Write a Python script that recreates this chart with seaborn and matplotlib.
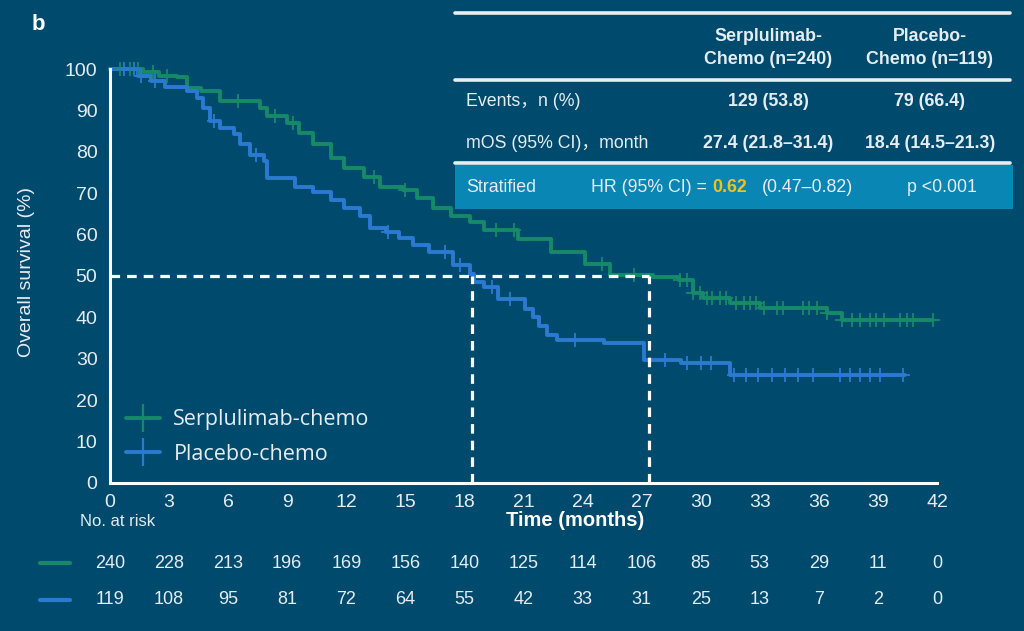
import numpy as np
import pandas as pd
import matplotlib
matplotlib.use("Agg")
import matplotlib.pyplot as plt
import matplotlib.transforms as mtransforms
from matplotlib.lines import Line2D
from matplotlib.patches import Rectangle
import seaborn as sns

# ---------------- data ----------------
serp_t = [0, 1.7, 2.5, 3.4, 3.9, 4.6, 5.6, 7.6, 8.0, 9.0, 9.6, 10.3, 11.2, 11.9, 12.9,
          13.7, 14.9, 15.6, 16.4, 17.3, 18.3, 19.0, 20.7, 22.4, 24.1, 25.4, 27.6, 28.9,
          29.6, 30.1, 31.5, 33.0, 36.4, 37.2, 41.8]
serp_s = [100, 99.2, 98.4, 98.0, 95.5, 94.7, 92.3, 90.7, 88.7, 87.0, 84.6, 81.8, 78.5, 76.0, 74.0,
          71.6, 70.8, 68.8, 66.4, 64.4, 63.1, 61.2, 59.0, 55.8, 53.0, 50.3, 49.8, 49.0,
          45.8, 44.6, 43.4, 42.2, 41.0, 39.4, 39.4]
serp_censor = [0.5, 1.0, 1.4, 2.2, 2.9, 6.5, 8.4, 9.3, 13.4, 15.0, 19.6, 20.5, 25.0, 26.6,
               28.95, 29.3, 29.6, 29.96, 30.3, 30.6, 31.0, 31.3, 31.8, 32.2, 32.5, 32.8, 33.2,
               33.9, 34.2, 35.2, 35.5, 35.9, 36.4, 37.2, 37.7, 38.1, 38.6, 38.9, 39.3, 40.1,
               40.5, 40.8, 41.8]

plac_t = [0, 1.4, 2.1, 2.8, 3.9, 4.4, 4.7, 5.1, 5.6, 6.3, 6.6, 7.1, 7.8, 8.0, 9.4, 10.3,
          11.2, 11.9, 12.7, 13.2, 14.0, 14.7, 15.4, 16.2, 17.4, 18.3, 18.5, 19.0, 19.7, 21.1,
          21.5, 21.8, 22.2, 22.7, 25.1, 27.1, 29.0, 31.5, 40.4]
plac_s = [100, 98.4, 97.2, 95.7, 94.7, 93.1, 90.7, 87.4, 85.8, 84.2, 81.8, 79.3, 77.7, 73.7, 71.6, 70.4,
          68.4, 66.4, 64.4, 61.5, 60.7, 59.1, 57.5, 55.9, 52.6, 50.5, 48.5, 47.3, 44.5, 42.1,
          40.0, 38.0, 35.7, 34.5, 33.7, 29.8, 29.0, 26.1, 26.1]
plac_censor = [0.7, 1.2, 1.6, 2.3, 5.3, 7.4, 14.1, 17.0, 17.8, 19.4, 20.3, 23.6, 28.2, 29.3,
               30.0, 30.5, 31.7, 32.3, 32.9, 33.6, 34.3, 34.95, 35.7, 37.1, 37.6, 38.1, 38.6,
               39.1, 40.3]

median_serp = 27.4
median_plac = 18.4

x_ticks = list(range(0, 43, 3))
y_ticks = list(range(0, 101, 10))
risk_serp = [240, 228, 213, 196, 169, 156, 140, 125, 114, 106, 85, 53, 29, 11, 0]
risk_plac = [119, 108, 95, 81, 72, 64, 55, 42, 33, 31, 25, 13, 7, 2, 0]

arm_labels = ["Serplulimab-chemo", "Placebo-chemo"]
col_headers = ["Serplulimab-\nChemo (n=240)", "Placebo-\nChemo (n=119)"]
row_labels = ["Events\uff0cn (%)", "mOS (95% CI)\uff0cmonth"]
serp_vals = ["129 (53.8)", "27.4 (21.8\u201331.4)"]
plac_vals = ["79 (66.4)", "18.4 (14.5\u201321.3)"]

# ---------------- style ----------------
BG = "#004a6e"
GREEN = "#168a68"
BLUE = "#2a7ad2"
TXT = "#e6edf2"
BOX = "#0a86b4"
YELLOW = "#f2c21b"

sns.set_theme(style="white")
plt.rcParams["font.family"] = ["Liberation Sans", "Noto Sans CJK SC", "DejaVu Sans"]
NARROW = ["Liberation Sans Narrow", "Liberation Sans", "DejaVu Sans"]
TS = 12.8  # table font size

fig = plt.figure(figsize=(10.24, 6.31), dpi=100, facecolor=BG)
ax = fig.add_axes([0.1074, 0.2346, 0.8076, 0.656])
ax.set_facecolor(BG)


def step_value(times, surv, t):
    i = np.searchsorted(times, t, side="right") - 1
    return surv[max(i, 0)]


for times, surv, cens, col in [(serp_t, serp_s, serp_censor, GREEN),
                               (plac_t, plac_s, plac_censor, BLUE)]:
    df = pd.DataFrame({"t": times, "s": surv})
    sns.lineplot(data=df, x="t", y="s", drawstyle="steps-post", color=col, lw=2.8,
                 estimator=None, sort=False, ax=ax, legend=False, clip_on=False)
    cdf = pd.DataFrame({"t": cens, "s": [step_value(times, surv, c) for c in cens]})
    sns.scatterplot(data=cdf, x="t", y="s", marker="+", s=110, linewidth=1.3, color=col,
                    ax=ax, legend=False, clip_on=False, zorder=3)

# median dashed lines
ax.plot([0, median_serp], [50, 50], color="white", lw=2.3, ls=(0, (3, 2.2)), zorder=4)
for m in [median_plac, median_serp]:
    ax.plot([m, m], [0, 50], color="white", lw=2.3, ls=(0, (3, 2.2)), zorder=4)

ax.set_xlim(0, 42)
ax.set_ylim(0, 100)
ax.set_xticks(x_ticks)
ax.set_yticks(y_ticks)
ax.set_xlabel("")
ax.set_ylabel("")
for sp in ["top", "right"]:
    ax.spines[sp].set_visible(False)
for sp in ["left", "bottom"]:
    ax.spines[sp].set_color("white")
    ax.spines[sp].set_linewidth(2.2)
ax.tick_params(axis="both", colors="white", direction="out", length=5, width=1.6,
               labelcolor=TXT, labelsize=14)
ax.tick_params(axis="x", pad=3)
ax.tick_params(axis="y", pad=4)
for lab in ax.get_xticklabels() + ax.get_yticklabels():
    lab.set_family(NARROW)

fig.text(27 / 1024, 1 - 272 / 631, "Overall survival (%)", rotation=90, color=TXT,
         fontsize=14, ha="center", va="center")
fig.text(38 / 1024, 1 - 25 / 631, "b", color="white", fontsize=16, fontweight="bold",
         ha="center", va="center")

# legend
handles = [Line2D([], [], color=GREEN, lw=2.8, marker="+", markersize=20, mew=1.6),
           Line2D([], [], color=BLUE, lw=2.8, marker="+", markersize=20, mew=1.6)]
leg = ax.legend(handles, arm_labels, loc="lower left", bbox_to_anchor=(-0.004, -0.003),
                frameon=False, handlelength=1.6, handletextpad=0.6,
                labelspacing=0.62, prop={"family": ["Open Sans", "DejaVu Sans"], "size": 15.5})
for t in leg.get_texts():
    t.set_color(TXT)

# axis title and at-risk table
fig.text(575 / 1024, 1 - 521 / 631, "Time (months)", color="white", fontsize=14.5,
         fontweight="bold", ha="center", va="center", family=NARROW)
fig.text(80 / 1024, 1 - 521 / 631, "No. at risk", color=TXT, fontsize=12,
         ha="left", va="center", family=NARROW)
blend = mtransforms.blended_transform_factory(ax.transData, fig.transFigure)
for risk, col, ypix in [(risk_serp, GREEN, 563), (risk_plac, BLUE, 600)]:
    yf = 1 - ypix / 631
    fig.add_artist(Line2D([40 / 1024, 70 / 1024], [yf, yf], color=col, lw=3,
                          transform=fig.transFigure))
    for xt, n in zip(x_ticks, risk):
        ax.text(xt, yf, str(n), transform=blend, color=TXT, fontsize=13,
                ha="center", va="center", family=NARROW, clip_on=False)

# summary table (figure coords)
def fx(p):
    return p / 1024


def fy(p):
    return 1 - p / 631


for ypix in [13, 80, 163]:
    fig.add_artist(Line2D([fx(455), fx(1010)], [fy(ypix), fy(ypix)], color="#e8eef2",
                          lw=2.6, transform=fig.transFigure))
fig.add_artist(Rectangle((fx(455), fy(209)), fx(1013) - fx(455), fy(165) - fy(209),
                         facecolor=BOX, edgecolor="none", transform=fig.transFigure))
for xc, h in zip([768, 930], col_headers):
    fig.text(fx(xc), fy(48), h, color=TXT, fontsize=TS, fontweight="bold",
             ha="center", va="center", linespacing=1.4)
for ypix, lab, v1, v2 in zip([101, 143], row_labels, serp_vals, plac_vals):
    fig.text(fx(466), fy(ypix), lab, color=TXT, fontsize=TS, ha="left", va="center")
    fig.text(fx(768), fy(ypix), v1, color=TXT, fontsize=TS, fontweight="bold",
             ha="center", va="center")
    fig.text(fx(930), fy(ypix), v2, color=TXT, fontsize=TS, fontweight="bold",
             ha="center", va="center")
fig.text(fx(466), fy(187), "Stratified", color=TXT, fontsize=TS, ha="left", va="center")
fig.text(fx(591), fy(187), "HR (95% CI) =", color=TXT, fontsize=TS, ha="left", va="center")
fig.text(fx(712), fy(187), "0.62", color=YELLOW, fontsize=TS, fontweight="bold",
         ha="left", va="center")
fig.text(fx(762), fy(187), "(0.47\u20130.82)", color=TXT, fontsize=TS, ha="left", va="center")
fig.text(fx(942), fy(187), "p <0.001", color=TXT, fontsize=TS, ha="center", va="center")

fig.savefig("out.png", dpi=100, facecolor=BG)
